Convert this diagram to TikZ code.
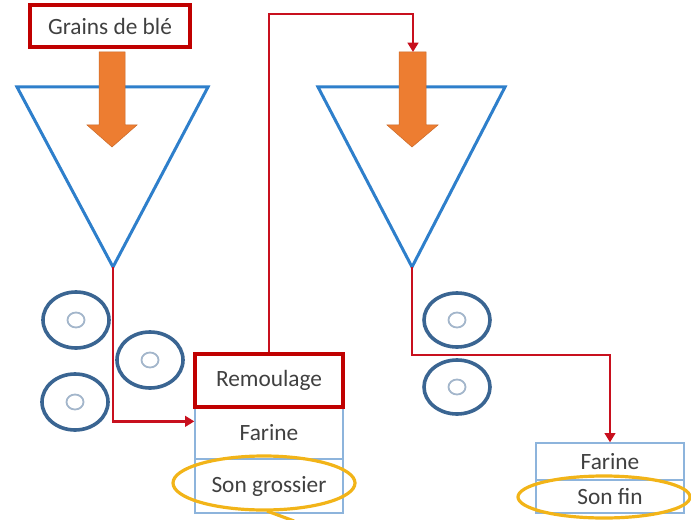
\documentclass[tikz,border=0pt]{standalone}
\usepackage{fontspec}
\setmainfont{Carlito}
\usetikzlibrary{arrows.meta,calc}
\newlength\px
\setlength\px{0.75pt}
\definecolor{boxred}{HTML}{C00000}
\definecolor{linered}{HTML}{C8101E}
\definecolor{triblue}{HTML}{2E7FCB}
\definecolor{rollblue}{HTML}{3A6592}
\definecolor{innerblue}{HTML}{A3B6CB}
\definecolor{lightblue}{HTML}{8DB4DC}
\definecolor{flowor}{HTML}{ED7D31}
\definecolor{callyel}{HTML}{F2B418}
\definecolor{txt}{HTML}{404040}
\tikzset{
  lab/.style={text=txt,font=\fontsize{17.5}{20}\selectfont,inner sep=0pt,anchor=center},
  redbox/.style={lab,draw=boxred,line width=3.2\px},
  bluebox/.style={lab,draw=lightblue,line width=1.3\px},
  hopper/.style={draw=triblue,line width=3\px,line join=miter},
  roller/.style={draw=rollblue,line width=3.6\px},
  axle/.style={draw=innerblue,line width=1.8\px},
  feed/.style={fill=flowor,draw=flowor!85!black,line width=0.5\px},
  redline/.style={draw=linered,line width=2.5\px},
  redarrow/.style={redline,-{Triangle[length=7pt,width=8pt]}},
  callout/.style={draw=callyel,line width=3.2\px}
}
\begin{document}
\begin{tikzpicture}[x=0.75pt,y=-0.75pt]
\useasboundingbox (0,0) rectangle (691,520);
% hoppers
\draw[hopper] (17,87) -- (208,87) -- (113,267) -- cycle;
\draw[hopper] (318,87) -- (505,87) -- (412,267) -- cycle;
\coordinate (apex1) at (113,267);
\coordinate (apex2) at (412,267);
% feed arrows
\draw[feed] (99,52) -- (125,52) -- (125,125) -- (137,125) -- (112,147) -- (87,125) -- (99,125) -- cycle;
\draw[feed] (399,52) -- (426,52) -- (426,125) -- (438,125) -- (412,147) -- (387,125) -- (399,125) -- cycle;
\coordinate (a2top) at (413,52);
% rollers left
\foreach \cx/\cy in {76/320, 75/402, 150/360}{
  \draw[roller] (\cx,\cy) ellipse [x radius=33, y radius=28];
  \draw[axle] (\cx,\cy) ellipse [x radius=8.5, y radius=7.5];
}
% rollers right
\foreach \cx/\cy in {457/320, 457/387}{
  \draw[roller] (\cx,\cy) ellipse [x radius=33, y radius=27];
  \draw[axle] (\cx,\cy) ellipse [x radius=8.5, y radius=7.5];
}
% boxes
\node[redbox,minimum width=160\px,minimum height=42\px] (grains) at (110,26) {Grains de blé};
\node[bluebox,minimum width=148\px,minimum height=52\px] (farine1) at (269,433) {Farine};
\node[bluebox,minimum width=148\px,minimum height=54\px] (songr) at (269,486) {Son grossier};
\node[redbox,minimum width=148\px,minimum height=53\px] (remou) at (269,380.5) {Remoulage};
\node[bluebox,minimum width=148\px,minimum height=37\px] (farine2) at (610,461.5) {Farine};
\node[bluebox,minimum width=148\px,minimum height=33\px] (sonfin) at (610,496.5) {Son fin};
% connectors
\draw[redarrow] (apex1) |- ($(farine1.north west)+(0,15)$);
\draw[redarrow] (remou.north) -- (remou.north |- 0,14) -| (a2top);
\draw[redarrow] (apex2) -- (apex2 |- 0,355) -| (farine2.north);
% callouts
\draw[callout] (264,483) ellipse [x radius=91, y radius=27];
\draw[callout] (267,511) -- (294,521);
\draw[callout] (604,497) ellipse [x radius=86, y radius=21];
\end{tikzpicture}
\end{document}
